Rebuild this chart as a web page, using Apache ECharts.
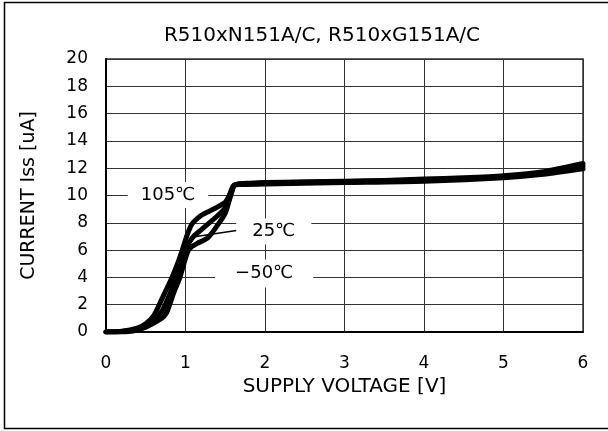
<!DOCTYPE html>
<html>
<head>
<meta charset="utf-8">
<script src="https://cdn.jsdelivr.net/npm/echarts@6/dist/echarts.min.js"></script>
<style>
html,body{margin:0;padding:0;background:#fff;}
#c{width:608px;height:431px;}
</style>
</head>
<body>
<div id="c"></div>
<script>
// ---- data ----
var titleText = 'R510xN151A/C, R510xG151A/C';
var xName = 'SUPPLY VOLTAGE [V]';
var yName = 'CURRENT Iss [uA]';

// 105°C curve: [voltage V, current uA]
var curve105 = [[0,0],[0.2,0.05],[0.4,0.3],[0.5,0.6],[0.6,1.2],[0.67,2.0],[0.75,3.0],[0.83,4.0],[0.9,5.0],[0.96,6.0],[1.02,7.1],[1.08,7.9],[1.2,8.55],[1.3,8.85],[1.4,9.15],[1.5,9.5],[1.55,10.0],[1.6,10.7],[1.66,10.85],[1.8,10.9],[2,10.95],[2.5,11.0],[3,11.05],[3.5,11.1],[4,11.2],[4.5,11.3],[5,11.45],[5.5,11.75],[6,12.35]];
// 25°C curve
var curve25 = [[0,0],[0.2,0.03],[0.4,0.25],[0.5,0.5],[0.6,0.9],[0.7,1.5],[0.76,2.2],[0.83,3.2],[0.89,4.2],[0.95,5.2],[1.0,6.0],[1.05,6.6],[1.1,7.0],[1.2,7.5],[1.3,8.0],[1.4,8.5],[1.5,9.1],[1.56,10.0],[1.61,10.75],[1.7,10.85],[2,10.9],[3,11.0],[4,11.12],[5,11.38],[5.5,11.65],[6,12.15]];
// -50°C curve
var curveM50 = [[0,0],[0.2,0.0],[0.4,0.15],[0.5,0.35],[0.6,0.65],[0.7,1.0],[0.76,1.4],[0.8,2.0],[0.86,3.0],[0.93,4.0],[0.98,5.0],[1.03,5.9],[1.08,6.25],[1.15,6.5],[1.28,6.9],[1.4,7.8],[1.5,8.7],[1.57,10.0],[1.62,10.75],[1.7,10.8],[2,10.85],[3,10.95],[4,11.05],[5,11.3],[5.5,11.55],[6,11.95]];

// annotation labels and leader line
var tempLabels = ['105℃','25℃','−50℃'];
var tempLabelPos = [[0.78,10.04],[2.11,7.36],[1.99,4.29]];
var leader25 = [[1.094,6.96],[1.85,7.62]];

// axis ranges / ticks
var xMin = 0, xMax = 6, xStep = 1;
var yMin = 0, yMax = 20, yStep = 2;

var FONT = "'DejaVu Sans', 'Noto Sans CJK JP', sans-serif";

var chart = echarts.init(document.getElementById('c'), null, {renderer:'canvas'});

function curveSeries(d){
  return {type:'line', data:d, showSymbol:false, smooth:0.25, z:3,
    lineStyle:{color:'#000', width:5, cap:'round', join:'round'}, silent:true};
}

var padList = [[4,13],[4,16],[5,20]];
var labelData = tempLabels.map(function(t,i){
  return {value:tempLabelPos[i], label:{show:true, position:'inside', formatter:t,
    fontSize:18, fontFamily:FONT, color:'#000', backgroundColor:'#fff', padding:padList[i]}};
});

chart.setOption({
  animation:false,
  backgroundColor:'#fff',
  title:{text:titleText, left:317, top:21, textAlign:'center',
    textStyle:{fontSize:20, fontWeight:'normal', fontFamily:FONT, color:'#000'}},
  grid:{left:106, top:59, right:25, bottom:99, show:true, borderColor:'#333', borderWidth:1.5, containLabel:false},
  xAxis:{type:'value', min:xMin, max:xMax, interval:xStep,
    name:xName, nameLocation:'middle', nameGap:44,
    nameTextStyle:{fontSize:20, fontFamily:FONT, color:'#000'},
    axisLine:{show:true, onZero:false, lineStyle:{color:'#000', width:2}},
    axisTick:{show:false},
    axisLabel:{fontSize:17, fontFamily:FONT, color:'#000', margin:23},
    splitLine:{show:true, lineStyle:{color:'#333', width:1}}},
  yAxis:{type:'value', min:yMin, max:yMax, interval:yStep,
    name:yName, nameLocation:'middle', nameGap:67,
    nameTextStyle:{fontSize:19, fontFamily:FONT, color:'#000'},
    axisLine:{show:true, onZero:false, lineStyle:{color:'#000', width:2}},
    axisTick:{show:false},
    axisLabel:{fontSize:17, fontFamily:FONT, color:'#000', margin:18},
    splitLine:{show:true, lineStyle:{color:'#333', width:1}}},
  graphic:[{type:'rect', shape:{x:4.5, y:2.5, width:620, height:426}, style:{fill:'none', stroke:'#000', lineWidth:1.5}, z:-1, silent:true}],
  series:[
    curveSeries(curve105),
    curveSeries(curve25),
    curveSeries(curveM50),
    {type:'line', data:leader25, showSymbol:false, z:4, silent:true, lineStyle:{color:'#000', width:1.5}},
    {type:'scatter', data:labelData, symbolSize:0, z:5, silent:true, itemStyle:{opacity:1}}
  ]
});
</script>
</body>
</html>
